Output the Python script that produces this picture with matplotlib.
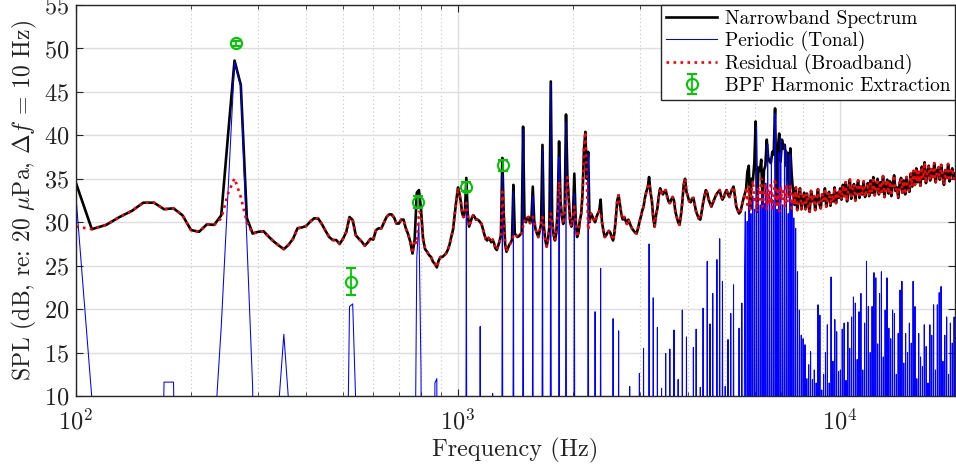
import numpy as np
import matplotlib
matplotlib.use('Agg')
from matplotlib import pyplot as plt
from matplotlib.ticker import LogLocator, NullFormatter, NullLocator, MultipleLocator

# ---- data (dB re 20 uPa, 10 Hz bins) ----

# residual (broadband) level, 10 Hz bins 100..990 Hz
red_lo = [
	29.5, 29.2, 29.7, 30.6, 31.3, 32.25, 32.25, 31.5, 31.6, 30.8,
	29.1, 28.9, 29.75, 29.7, 30.45, 33.3, 35.05, 32.9, 30.0, 28.7,
	28.9, 28.95, 28.3, 27.75, 27.3, 26.9, 27.4, 28.1, 29.3, 29.4,
	29.55, 30.05, 30.45, 30.45, 29.8, 29.0, 28.3, 27.95, 27.95, 27.5,
	28.1, 28.9, 30.55, 30.25, 28.5, 28.1, 27.75, 27.3, 27.65, 28.1,
	28.0, 29.1, 29.3, 29.3, 29.95, 30.6, 30.9, 30.9, 30.55, 29.85,
	29.85, 30.3, 30.3, 29.3, 28.65, 27.75, 26.4, 28.0, 27.5, 31.2,
	31.0, 28.1, 26.9, 26.6, 26.2, 26.0, 25.45, 25.2, 24.8, 25.6,
	26.0, 26.0, 26.2, 26.4, 26.8, 27.4, 28.3, 29.1, 30.8, 32.55,
]

# residual level above 1 kHz, log-spaced points 1 kHz..20 kHz
red_hi = [
	34.0, 33.3, 32.4, 31.0, 30.6, 31.3, 32.2, 31.0, 29.5, 30.0,
	30.5, 30.8, 30.6, 30.3, 30.3, 30.2, 30.0, 29.8, 29.2, 28.6,
	28.1, 27.9, 28.2, 28.0, 27.7, 28.0, 27.6, 27.0, 26.8, 27.3,
	27.8, 28.5, 33.5, 31.0, 27.5, 26.6, 27.0, 27.4, 27.6, 28.0,
	28.4, 28.7, 28.5, 28.3, 28.4, 28.6, 28.7, 29.5, 30.2, 30.0,
	30.5, 30.6, 29.9, 30.2, 30.6, 30.2, 29.2, 28.7, 28.3, 29.0,
	29.8, 30.6, 29.5, 28.0, 27.2, 28.0, 29.5, 31.0, 30.2, 28.6,
	27.9, 28.8, 31.5, 34.7, 32.5, 30.6, 29.8, 30.8, 33.0, 35.2,
	32.5, 30.0, 29.5, 30.5, 31.8, 30.2, 28.3, 28.8, 30.2, 31.0,
	33.5, 38.5, 40.4, 35.0, 29.1, 30.0, 31.0, 30.7, 30.3, 30.0,
	30.6, 31.0, 31.3, 31.0, 30.0, 29.0, 28.3, 28.5, 28.8, 29.0,
	28.8, 28.3, 27.9, 28.8, 30.5, 32.5, 33.1, 32.0, 30.9, 30.3,
	30.6, 30.2, 29.8, 30.3, 29.9, 29.5, 29.2, 29.0, 28.8, 28.7,
	29.3, 30.0, 30.6, 31.3, 31.8, 32.8, 33.5, 34.0, 34.5, 33.5,
	32.5, 30.5, 29.5, 30.8, 31.6, 33.0, 33.9, 33.5, 33.2, 33.5,
	33.7, 33.0, 32.4, 32.2, 32.6, 32.9, 32.5, 31.2, 30.6, 30.0,
	29.7, 30.8, 32.3, 34.3, 35.0, 33.5, 33.0, 32.4, 32.3, 32.7,
	32.8, 32.0, 31.2, 30.8, 30.4, 30.3, 31.2, 32.2, 33.0, 33.7,
	33.4, 32.6, 32.2, 31.8, 32.2, 32.6, 33.0, 33.3, 33.5, 33.7,
	33.0, 32.6, 32.9, 33.4, 33.7, 33.2, 32.9, 33.4, 33.8, 34.1,
	33.0, 31.8, 31.4, 31.0, 31.2, 31.9, 32.6, 33.2, 33.7, 32.0,
	34.2, 31.5, 33.5, 34.8, 32.2, 33.0, 31.2, 34.0, 32.6, 35.0,
	31.8, 33.2, 34.5, 31.4, 33.8, 32.1, 34.6, 31.6, 33.3, 35.0,
	32.0, 33.6, 31.3, 34.2, 32.5, 33.9, 31.7, 34.4, 32.3, 33.1,
	34.3, 31.6, 33.5, 32.0, 34.0, 31.4, 32.8, 33.9, 31.5, 32.6,
	33.4, 31.5, 33.3, 32.0, 31.2, 33.6, 32.4, 33.0, 31.4, 32.7,
	33.8, 32.1, 31.6, 33.2, 32.5, 33.9, 31.8, 32.9, 33.5, 31.9,
	33.1, 32.4, 34.0, 32.2, 33.4, 32.8, 33.9, 32.6, 34.3, 33.0,
	34.6, 32.4, 33.8, 34.9, 32.7, 33.5, 34.4, 32.5, 33.9, 34.8,
	32.8, 34.1, 33.2, 34.7, 32.9, 33.6, 34.5, 33.0, 34.8, 33.4,
	35.2, 33.1, 34.3, 35.0, 33.2, 34.6, 33.5, 35.3, 32.9, 34.2,
	34.9, 33.3, 34.7, 33.0, 34.4, 35.4, 33.6, 34.0, 32.8, 34.5,
	35.1, 33.4, 34.8, 33.2, 35.2, 34.0, 33.5, 35.6, 34.1, 35.9,
	34.3, 36.2, 34.6, 35.8, 34.2, 36.4, 35.0, 36.9, 34.5, 35.7,
	36.5, 34.8, 36.1, 35.2, 36.8, 34.6, 35.9, 36.3, 34.9, 36.6,
	35.4, 34.3, 36.0, 35.1, 36.7, 34.7, 35.8, 36.2, 35.0, 35.6,
]

# periodic (tonal) lines below 5.65 kHz, freq (Hz): level
tones = {
	100: 32.9, 110: 9.8, 170: 11.6, 180: 11.6, 230: 5.0, 240: 18.0,
	250: 33.5, 260: 48.4, 270: 45.6, 280: 28.0, 290: 11.0,
	340: 9.5, 350: 17.1, 360: 9.5, 510: -8.0, 520: 20.3, 530: 20.6, 540: 9.0,
	770: -5.0, 780: 26.0, 790: 30.0, 800: 13.0, 870: 11.5, 880: 12.0,
	1048: 32.4, 1142: 18.0, 1230: 10.3, 1310: 35.5, 1397: 33.5, 1485: 40.7,
	1572: 33.0, 1659: 38.5, 1747: 46.0, 1834: 37.5, 1921: 41.5, 2009: 33.3,
	2183: 37.8, 2284: 19.7, 2363: 24.7, 2546: 18.9, 2634: 17.5, 2803: 11.1,
	2984: 12.6, 3068: 15.5, 3162: 27.5, 3253: 21.3, 3339: 17.9, 3420: 10.9,
	3510: 14.9, 3596: 15.4, 3684: 17.6, 3774: 11.9, 3859: 19.9, 3953: 16.8,
	4116: 15.6, 4216: 17.7, 4300: 11.0, 4386: 20.1, 4477: 25.5, 4567: 18.3,
	4650: 21.8, 4744: 25.7, 4822: 28.1, 4911: 23.2, 5000: 11.1, 5100: 16.5,
	5184: 19.5, 5279: 22.8, 5440: 17.8, 5540: 20.7, 5630: 23.9,
}
no_tone = -60.0

# dense tonal spikes 5.65 kHz .. 20 kHz (spike tops, low to left to right)
dense_split = 5650
dense_tops = [
	31.2, 30.1, 32.5, 31.0, 33.0, 31.5, 41.0, 33.0, 32.0, 33.5,
	32.2, 34.5, 39.0, 33.0, 37.5, 32.5, 42.5, 31.5, 38.0, 39.6,
	32.0, 39.0, 38.3, 31.0, 37.8,
	32.5, 30.5, 29.3, 24.3, 19.9, 17.0, 16.6, 15.9, 12.0, 13.6,
	15.1, 11.9, 13.0, 11.5, 20.5, 19.3, 10.7,
	12.5, 15.0, 18.2, 11.5, 23.7, 14.0, 18.8, 17.4, 12.8, 13.0,
	17.7, 18.4, 11.8, 18.5, 15.5, 19.1, 21.4, 20.7, 14.2, 19.7,
	21.8, 13.0, 18.4, 25.5, 20.3, 15.0, 20.3, 24.2, 23.6, 16.0,
	21.8, 24.3, 14.5, 19.9, 23.6, 17.8, 16.6, 19.9, 19.5, 12.5,
	17.2, 22.2, 23.2, 13.8, 17.2, 15.0, 18.4, 16.1, 23.2, 20.3,
	12.0, 17.2, 14.5, 13.4, 18.2, 15.7, 11.5, 18.2, 17.0, 20.5,
	13.0, 20.5, 21.9, 22.6, 14.0, 17.0, 19.1, 12.5, 18.4, 16.1,
	19.1,
]

# narrowband spectrum where it stands above the residual (tonal peaks)
peaks = {
	100: 34.5, 240: 30.8, 250: 40.0, 260: 48.6, 270: 45.8, 280: 30.5,
	520: 30.6, 780: 33.4, 790: 33.7, 800: 31.5,
	1048: 35.1, 1310: 37.4, 1397: 34.3, 1485: 41.0, 1572: 34.1, 1659: 38.9,
	1747: 46.2, 1834: 39.3, 1921: 42.4, 2009: 35.6, 2183: 38.1, 2363: 32.6,
	3162: 35.2,
	5699: 35.8, 5780: 36.5, 5872: 35.0, 5950: 36.8, 6027: 41.6, 6090: 36.3,
	6148: 35.9, 6220: 37.2, 6299: 36.0, 6360: 36.5, 6429: 39.5, 6480: 37.5,
	6530: 37.0, 6580: 36.8, 6626: 38.1, 6700: 37.8, 6759: 43.1, 6853: 38.5,
	6936: 40.2, 6990: 37.0, 7037: 39.5, 7105: 38.5, 7178: 38.9, 7240: 36.5,
	7310: 38.0, 7398: 38.5, 7450: 35.5,
}

# BPF harmonic extraction (mean and spread)
bpf_freq = [262, 524, 786, 1048, 1310]
bpf_level = [50.6, 23.15, 32.3, 34.1, 36.55]
bpf_err = [0.3, 1.55, 0.7, 0.5, 0.65]

# ---- assemble series ----
freq = np.concatenate([np.arange(100, 1000, 10), np.geomspace(1000, 20000, len(red_hi))])
resid = np.array(red_lo + red_hi, dtype=float)

tonal = np.full(len(freq), no_tone)
for fq, v in tones.items():
	tonal[np.argmin(abs(freq - fq))] = v

total = np.fmax(resid, tonal)
for fq, v in peaks.items():
	total[np.argmin(abs(freq - fq))] = v

# tonal curve: main grid up to the split, then each dense spike followed by a gap
keep = freq < dense_split
dense_f = np.geomspace(dense_split, 20000, 2 * len(dense_tops))
dense_v = np.full(len(dense_f), no_tone)
dense_v[0::2] = dense_tops
tonal_f = np.concatenate([freq[keep], dense_f])
tonal_v = np.concatenate([tonal[keep], dense_v])

# ---- plot ----
plt.rcParams['font.family'] = 'serif'
plt.rcParams['font.serif'] = ['cmr10', 'DejaVu Serif']
plt.rcParams['mathtext.fontset'] = 'cm'
plt.rcParams['axes.formatter.use_mathtext'] = True

green = (0.0, 0.78, 0.0)
dark = '#262626'

fig = plt.figure(figsize=(9.56, 4.71), dpi=100)
ax = fig.add_axes([0.0795, 0.1592, 0.9195, 0.8302])

ax.semilogx(freq, total, color='k', lw=1.9, label='Narrowband Spectrum')
ax.semilogx(tonal_f, tonal_v, color='b', lw=0.75, label='Periodic (Tonal)')
ax.semilogx(freq, resid, color='r', lw=1.9, ls=':', label='Residual (Broadband)')
ax.errorbar(bpf_freq, bpf_level, yerr=bpf_err, fmt='o', color=green, mfc='none',
	mew=1.5, ms=8, capsize=3.5, elinewidth=1.3, capthick=1.3,
	label='BPF Harmonic Extraction', zorder=5)

ax.set_xlim(100, 20000)
ax.set_ylim(10, 55)
ax.yaxis.set_major_locator(MultipleLocator(5))
ax.yaxis.set_minor_locator(NullLocator())
ax.xaxis.set_major_locator(LogLocator(base=10, numticks=10))
ax.xaxis.set_minor_locator(LogLocator(base=10, subs=np.arange(2, 10), numticks=20))
ax.xaxis.set_minor_formatter(NullFormatter())

ax.set_axisbelow(True)
ax.grid(which='major', axis='both', color='#dedede', lw=1.0, ls='-')
ax.grid(which='minor', axis='x', color='#c4c4c4', lw=0.8, ls=(0, (1, 2.5)))

ax.tick_params(which='both', direction='in', top=True, right=True, colors=dark, labelcolor='#222222')
ax.tick_params(which='major', length=5, width=0.8, labelsize=17.5)
ax.tick_params(axis='x', which='major', pad=9)
ax.tick_params(axis='y', which='major', pad=5)
ax.tick_params(which='minor', length=3, width=0.6)
for s in ax.spines.values():
	s.set_color(dark)
	s.set_linewidth(1.0)

ax.set_xlabel('Frequency (Hz)', fontsize=17.5, color='#222222', labelpad=3)
ax.set_ylabel(r'SPL (dB, re: 20 $\mu$Pa, $\Delta f$ = 10 Hz)', fontsize=17, color='#222222', labelpad=3)

leg = ax.legend(loc='upper right', fontsize=14, frameon=True, fancybox=False,
	edgecolor=dark, framealpha=1, borderaxespad=0, handlelength=2.6,
	labelspacing=0.15, borderpad=0.25, handletextpad=0.4)
leg.get_frame().set_linewidth(1.0)

fig.savefig('out.png', dpi=100)
